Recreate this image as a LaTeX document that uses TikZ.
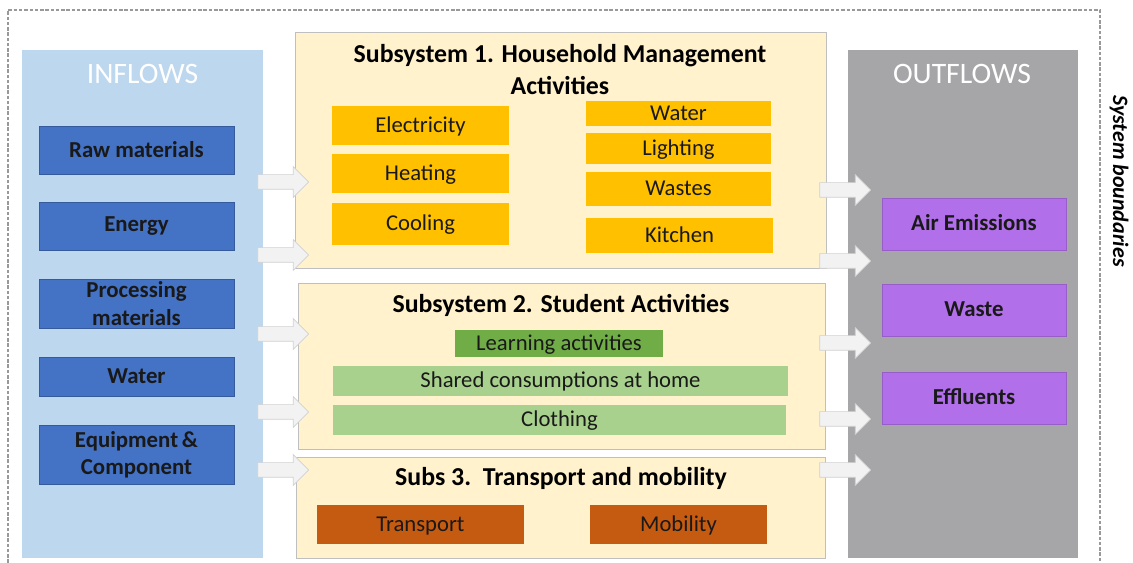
\documentclass[tikz,border=0pt]{standalone}
\usepackage{fontspec}
\setmainfont{Carlito}
\usetikzlibrary{shapes.arrows}
\definecolor{inbg}{HTML}{BDD7EE}
\definecolor{inbox}{HTML}{4472C4}
\definecolor{subbg}{HTML}{FFF2CC}
\definecolor{subline}{HTML}{BFBFBF}
\definecolor{orangebox}{HTML}{FFC000}
\definecolor{darkgreen}{HTML}{70AD47}
\definecolor{lightgreen}{HTML}{A9D18E}
\definecolor{brownbox}{HTML}{C55A11}
\definecolor{outbg}{HTML}{A6A6A9}
\definecolor{outbox}{HTML}{B26FEA}
\definecolor{flowfill}{HTML}{F2F2F2}
\definecolor{flowline}{HTML}{D0D0D0}
\tikzstyle{panel}=[rectangle,inner sep=0pt]
\tikzstyle{subpanel}=[panel,draw=subline,fill=subbg,line width=0.5pt]
\tikzstyle{box}=[rectangle,inner sep=0pt,font=\fontsize{12.9}{14}\selectfont,text=black!90,text depth=0.3ex,text height=1.9ex]
\tikzstyle{inbox}=[box,fill=inbox,draw=inbox!80!black,line width=0.3pt,font=\fontsize{13}{15.5}\selectfont\bfseries,align=center,text depth=,text height=]
\tikzstyle{subbox}=[box,fill=orangebox]
\tikzstyle{outbox}=[box,fill=outbox,draw=outbox!85!black,line width=0.3pt,font=\fontsize{13}{15}\selectfont\bfseries]
\tikzstyle{heading}=[font=\fontsize{16.9}{18}\selectfont,text=white]
\tikzstyle{title}=[font=\fontsize{14.7}{18.2}\selectfont\bfseries,align=center]
\tikzstyle{flow}=[single arrow,draw=flowline,fill=flowfill,line width=0.4pt,inner xsep=0pt,inner ysep=0.14cm,minimum height=1.02cm,single arrow head extend=0.16cm]

\begin{document}
\begin{tikzpicture}[x=0.02cm,y=-0.02cm]
        \useasboundingbox (0,0) rectangle (1133,563);
        % system boundaries
        \draw[gray!80,line width=0.8pt,dash pattern=on 2pt off 1pt] (8,563) -- (8,10) -- (1100,10) -- (1100,563);
        \node[rotate=-90,font=\fontsize{12.5}{14}\selectfont\bfseries\itshape] (boundary) at (1119,181) {System boundaries};
        % inflows
        \node[panel,fill=inbg,minimum width=4.82cm,minimum height=10.16cm] (inflows) at (142.5,304) {};
        \node[heading] (inhead) at (142.5,74) {INFLOWS};
        \node[inbox,minimum width=3.9cm,minimum height=0.96cm] (raw) at (136.5,150) {Raw materials};
        \node[inbox,minimum width=3.9cm,minimum height=0.96cm] (energy) at (136.5,226) {Energy};
        \node[inbox,minimum width=3.9cm,minimum height=0.98cm] (processing) at (136.5,303.5) {Processing\\materials};
        \node[inbox,minimum width=3.9cm,minimum height=0.78cm] (water) at (136.5,376.5) {Water};
        \node[inbox,minimum width=3.9cm,minimum height=1.18cm] (equipment) at (136.5,454.5) {Equipment\,\&\\Component};
        % subsystem 1
        \node[subpanel,minimum width=10.62cm,minimum height=4.72cm] (sub1) at (560.5,150) {};
        \node[title] (sub1title) at (560,70) {Subsystem 1. Household Management\\Activities};
        \node[subbox,minimum width=3.54cm,minimum height=0.78cm] (electricity) at (420.5,125.5) {Electricity};
        \node[subbox,minimum width=3.54cm,minimum height=0.78cm] (heating) at (420.5,173.5) {Heating};
        \node[subbox,minimum width=3.54cm,minimum height=0.84cm] (cooling) at (420.5,224) {Cooling};
        \node[subbox,minimum width=3.7cm,minimum height=0.5cm] (water1) at (678.5,113.5) {Water};
        \node[subbox,minimum width=3.7cm,minimum height=0.62cm] (lighting) at (678.5,148.5) {Lighting};
        \node[subbox,minimum width=3.7cm,minimum height=0.68cm] (wastes) at (678.5,189) {Wastes};
        \node[subbox,minimum width=3.74cm,minimum height=0.7cm] (kitchen) at (679.5,235.5) {Kitchen};
        % subsystem 2
        \node[subpanel,minimum width=10.54cm,minimum height=3.32cm] (sub2) at (561.5,366) {};
        \node[title] (sub2title) at (561,305) {Subsystem 2. Student Activities};
        \node[box,fill=darkgreen,minimum width=4.16cm,minimum height=0.54cm] (learning) at (559,343.5) {Learning activities};
        \node[box,fill=lightgreen,minimum width=9.1cm,minimum height=0.6cm] (shared) at (560.5,381) {Shared consumptions at home};
        \node[box,fill=lightgreen,minimum width=9.06cm,minimum height=0.6cm] (clothing) at (559.5,420) {Clothing};
        % subsystem 3
        \node[subpanel,minimum width=10.58cm,minimum height=2.02cm] (sub3) at (560.5,507.5) {};
        \node[title] (sub3title) at (561,478) {Subs 3.\ \ Transport and mobility};
        \node[box,fill=brownbox,minimum width=4.14cm,minimum height=0.78cm] (transport) at (420.5,524.5) {Transport};
        \node[box,fill=brownbox,minimum width=3.54cm,minimum height=0.78cm] (mobility) at (678.5,524.5) {Mobility};
        % outflows
        \node[panel,fill=outbg,minimum width=4.6cm,minimum height=10.16cm] (outflows) at (963,304) {};
        \node[heading] (outhead) at (962,74) {OUTFLOWS};
        \node[outbox,minimum width=3.68cm,minimum height=1.04cm] (air) at (974,224) {Air Emissions};
        \node[outbox,minimum width=3.68cm,minimum height=1.04cm] (waste) at (974,310) {Waste};
        \node[outbox,minimum width=3.68cm,minimum height=1.04cm] (effluents) at (974,398) {Effluents};
        % flows in
        \node[flow] (in1) at (279.5,182) {};
        \node[flow] (in2) at (279.5,255) {};
        \node[flow] (in3) at (279.5,334) {};
        \node[flow] (in4) at (279.5,412) {};
        \node[flow] (in5) at (279.5,470) {};
        % flows out
        \node[flow] (out1) at (841.5,190) {};
        \node[flow] (out2) at (841.5,261) {};
        \node[flow] (out3) at (841.5,343) {};
        \node[flow] (out4) at (841.5,419) {};
        \node[flow] (out5) at (841.5,470) {};
\end{tikzpicture}
\end{document}
